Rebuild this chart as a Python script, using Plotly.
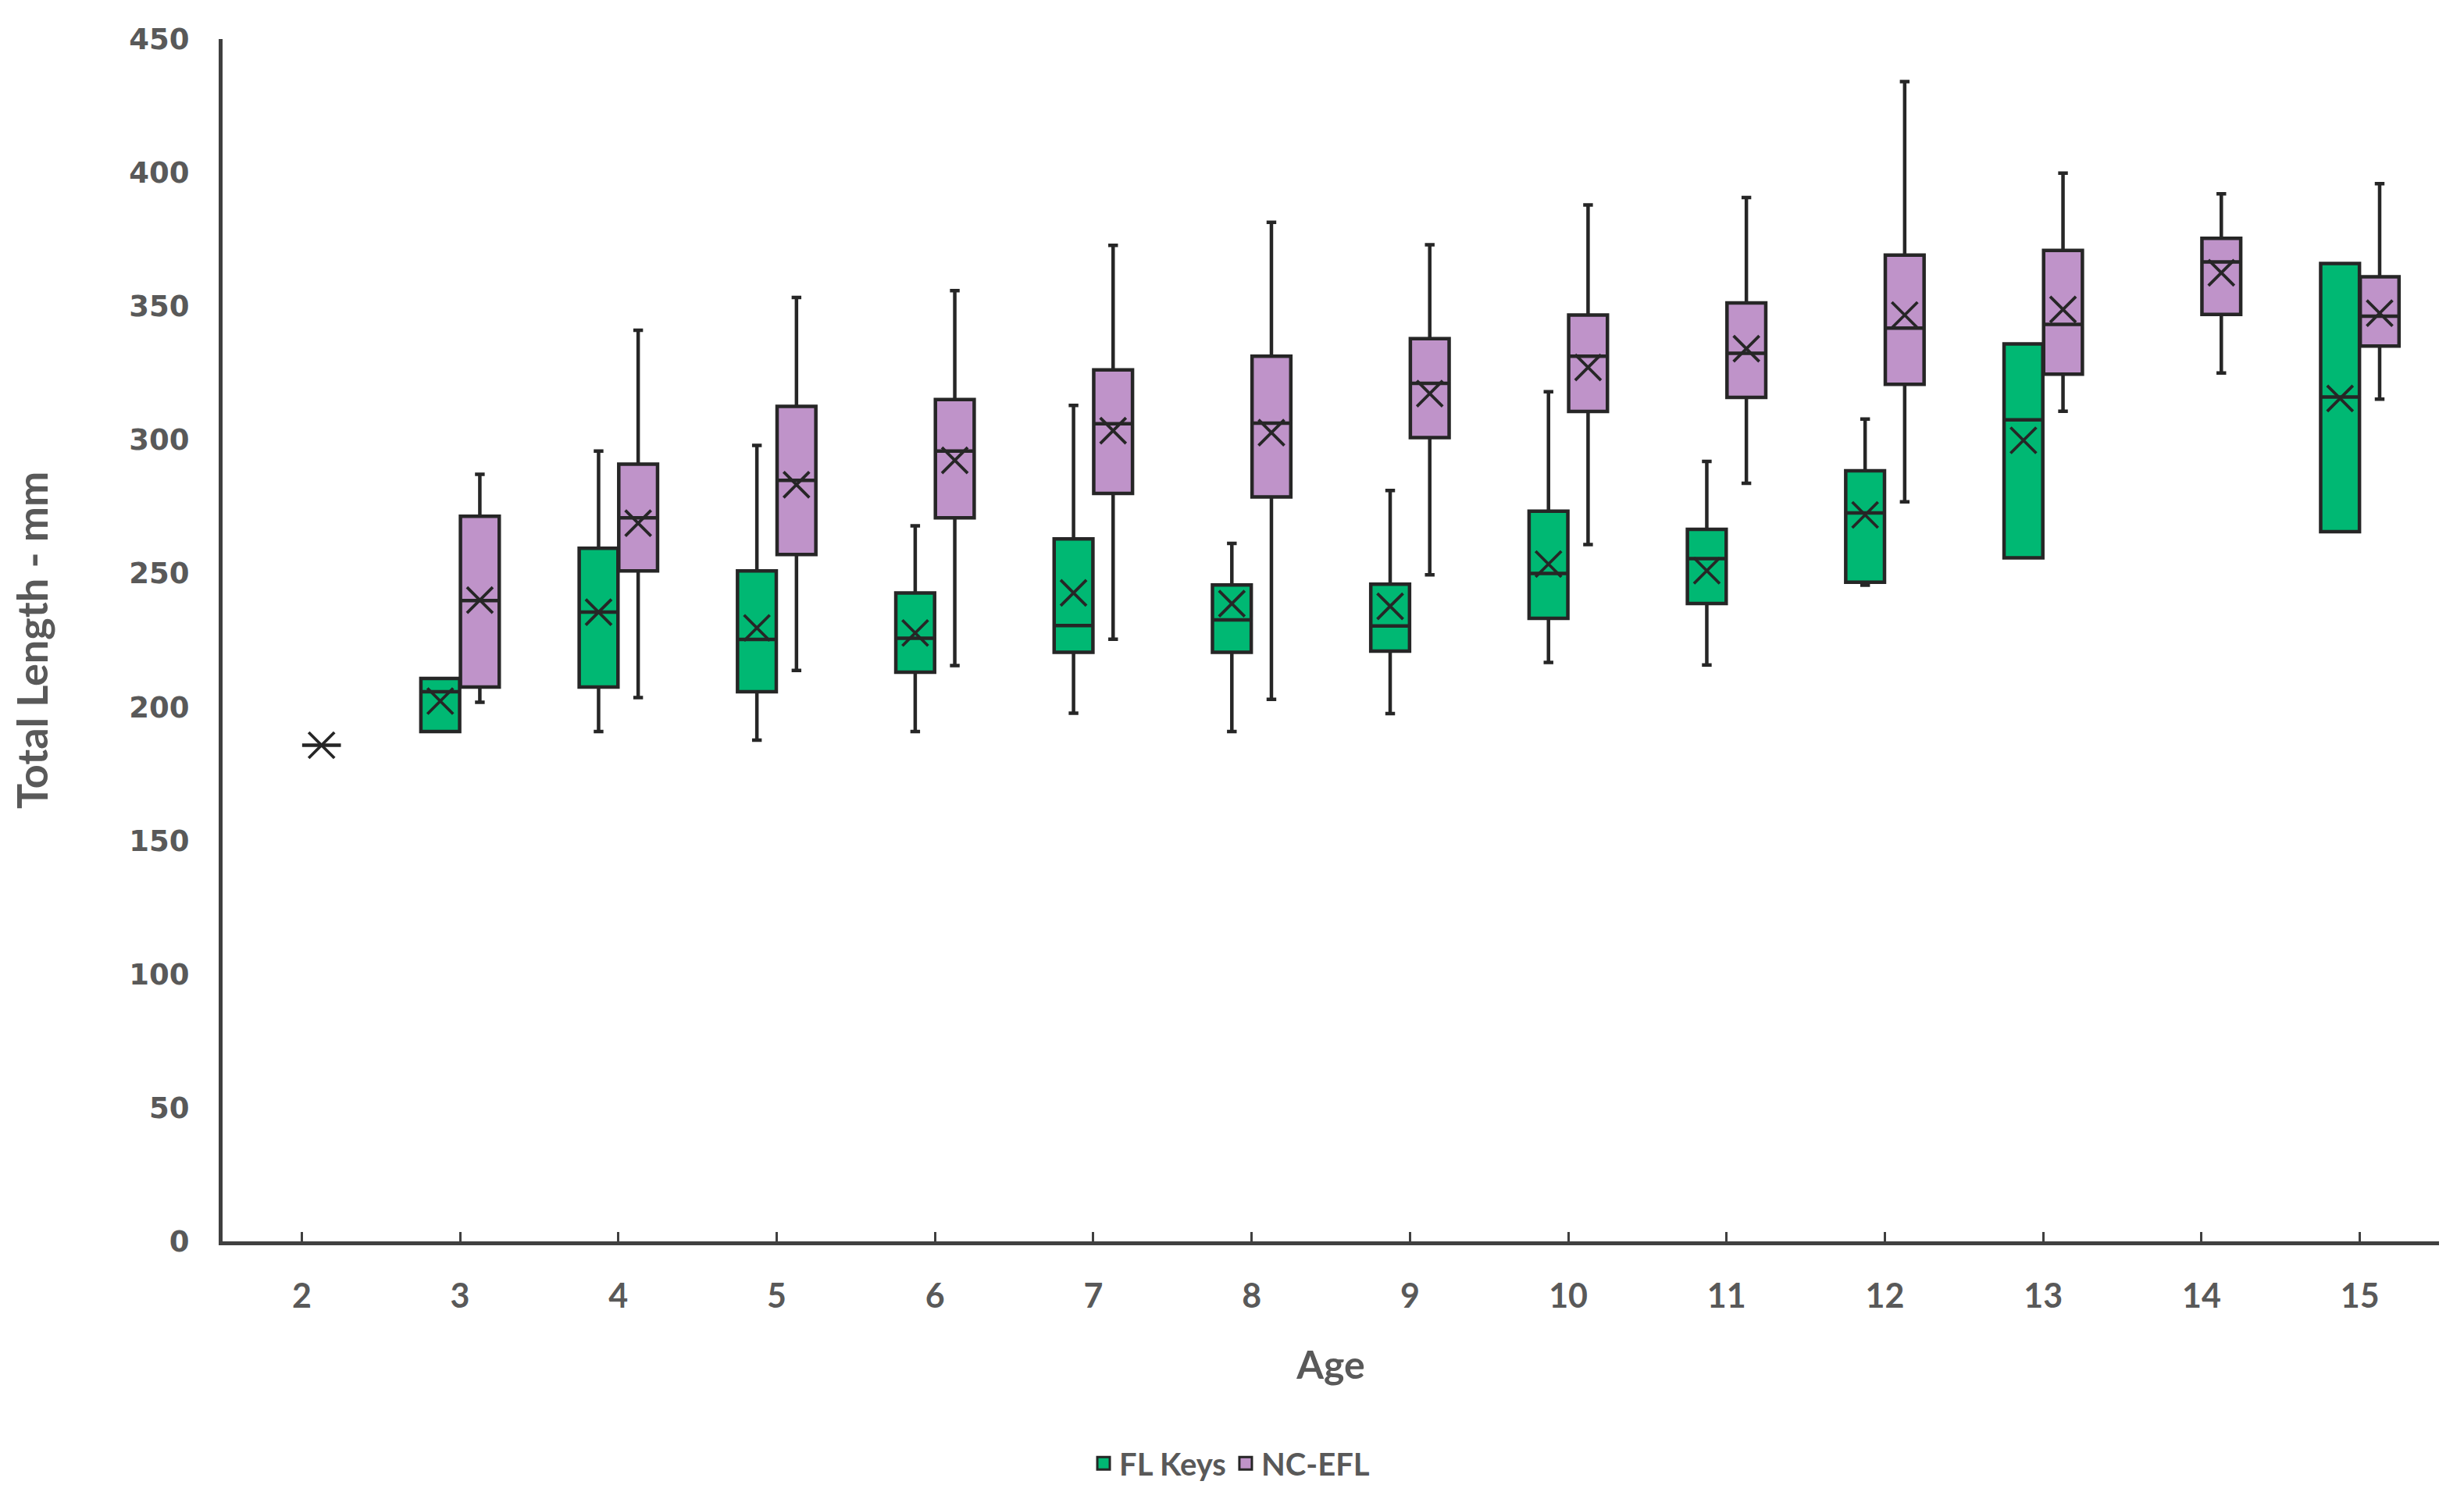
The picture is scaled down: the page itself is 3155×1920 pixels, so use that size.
import plotly.graph_objects as go

# ---------------- data ----------------
ages = ["2", "3", "4", "5", "6", "7", "8", "9", "10", "11", "12", "13", "14", "15"]

fl_ages   = ["3", "4", "5", "6", "7", "8", "9", "10", "11", "12", "13", "15"]
fl_low    = [190.8, 190.8, 187.6, 190.8, 197.7, 190.8, 197.5, 216.7, 215.7, 245.6, 255.8, 265.6]
fl_q1     = [190.8, 207.5, 205.7, 213.0, 220.5, 220.5, 220.9, 233.2, 238.7, 246.7, 255.8, 265.6]
fl_median = [205.7, 235.5, 225.3, 225.7, 230.5, 232.6, 230.3, 250.0, 255.5, 272.6, 307.5, 316.0]
fl_q3     = [210.7, 259.4, 250.9, 242.7, 262.9, 245.7, 246.0, 273.3, 266.5, 288.4, 335.9, 366.0]
fl_high   = [210.7, 295.8, 297.9, 267.8, 312.9, 261.2, 281.0, 318.0, 291.9, 307.8, 335.9, 366.0]
fl_mean   = [202.2, 235.5, 229.6, 227.7, 242.7, 238.7, 237.7, 253.5, 251.0, 271.9, 299.8, 315.5]

nc_ages   = ["2", "3", "4", "5", "6", "7", "8", "9", "10", "11", "12", "13", "14", "15"]
nc_low    = [185.7, 201.8, 203.5, 213.7, 215.5, 225.4, 202.9, 249.5, 260.8, 283.7, 276.8, 310.7, 325.0, 315.2]
nc_q1     = [185.7, 207.5, 250.9, 257.1, 270.8, 279.9, 278.6, 300.8, 310.6, 315.9, 320.8, 324.6, 346.9, 335.1]
nc_median = [185.7, 239.8, 270.8, 284.8, 295.8, 306.0, 306.2, 321.1, 331.3, 332.4, 341.8, 343.2, 366.6, 346.3]
nc_q3     = [185.7, 271.4, 290.9, 312.5, 315.1, 326.2, 331.3, 337.9, 346.7, 351.2, 369.1, 370.9, 375.4, 361.0]
nc_high   = [185.7, 287.1, 341.0, 353.3, 355.8, 372.8, 381.4, 373.0, 387.9, 390.7, 434.1, 399.8, 392.1, 395.9]
nc_mean   = [185.7, 240.0, 268.8, 283.2, 292.3, 303.4, 302.7, 317.3, 327.1, 334.1, 346.7, 348.8, 362.5, 347.4]

y_ticks = [0, 50, 100, 150, 200, 250, 300, 350, 400, 450]

# ---------------- styling ----------------
GREEN = "#00B873"
PURPLE = "#BF93C9"
EDGE = "#262626"
TEXT = "#595959"
LINE_W = 4.5
FONT = "Lato, Open Sans, sans-serif"

fig = go.Figure()

series = [
    ("FL Keys", "fl", GREEN, fl_ages, fl_low, fl_q1, fl_median, fl_q3, fl_high, fl_mean),
    ("NC-EFL", "nc", PURPLE, nc_ages, nc_low, nc_q1, nc_median, nc_q3, nc_high, nc_mean),
]

for name, grp, color, xs, lo, q1, med, q3, hi, mean in series:
    fig.add_trace(go.Box(
        name=name,
        x=xs,
        lowerfence=lo, q1=q1, median=med, q3=q3, upperfence=hi,
        offsetgroup=grp,
        fillcolor=color,
        line=dict(color=EDGE, width=LINE_W),
        whiskerwidth=0.25,
        boxpoints=False,
        showlegend=False,
        hoverinfo="skip",
    ))

for name, grp, color, xs, lo, q1, med, q3, hi, mean in series:
    fig.add_trace(go.Scatter(
        x=xs, y=mean,
        mode="markers",
        offsetgroup=grp,
        marker=dict(symbol="x-thin-open", size=33, color=EDGE,
                    line=dict(color=EDGE, width=3.8)),
        showlegend=False,
        hoverinfo="skip",
    ))

# legend entries
for name, grp, color, *_ in series:
    fig.add_trace(go.Scatter(
        x=[None], y=[None],
        mode="markers",
        name=name,
        offsetgroup=grp,
        marker=dict(symbol="square", size=16, color=color,
                    line=dict(color=EDGE, width=3)),
        showlegend=True,
    ))

fig.update_layout(
    width=3155, height=1920,
    paper_bgcolor="white", plot_bgcolor="white",
    margin=dict(l=277, r=40, t=42, b=338),
    boxmode="group", boxgap=0.5, boxgroupgap=0.02,
    scattermode="group", scattergap=0.5,
    font=dict(family=FONT, color=TEXT),
    legend=dict(
        orientation="h",
        xref="container", yref="container",
        x=0.497, xanchor="center",
        y=0.028, yanchor="middle",
        font=dict(size=40, color=TEXT, family=FONT, weight="bold"),
        itemsizing="trace",
        traceorder="normal",
    ),
)

fig.update_xaxes(
    type="category",
    categoryorder="array", categoryarray=ages,
    range=[-0.5, len(ages) - 0.5],
    showline=True, linecolor="#404040", linewidth=5,
    ticks="inside", ticklen=12, tickwidth=3, tickcolor="#404040",
    showgrid=False, zeroline=False,
    tickfont=dict(size=43, color=TEXT, family=FONT, weight="bold"),
    ticklabelstandoff=28,
    title=dict(text="Age", standoff=50,
               font=dict(size=50, color=TEXT, family=FONT, weight="bold")),
)

fig.update_yaxes(
    range=[0, 450],
    tickvals=y_ticks,
    showline=True, linecolor="#404040", linewidth=5,
    ticks="", showgrid=False, zeroline=False,
    tickfont=dict(size=37, color=TEXT, family="DejaVu Sans, Verdana, sans-serif", weight="bold"),
    ticklabelstandoff=30,
    title=dict(text="Total Length - mm", standoff=95,
               font=dict(size=54, color=TEXT, family=FONT, weight="bold")),
)

fig.write_html("out.html")
